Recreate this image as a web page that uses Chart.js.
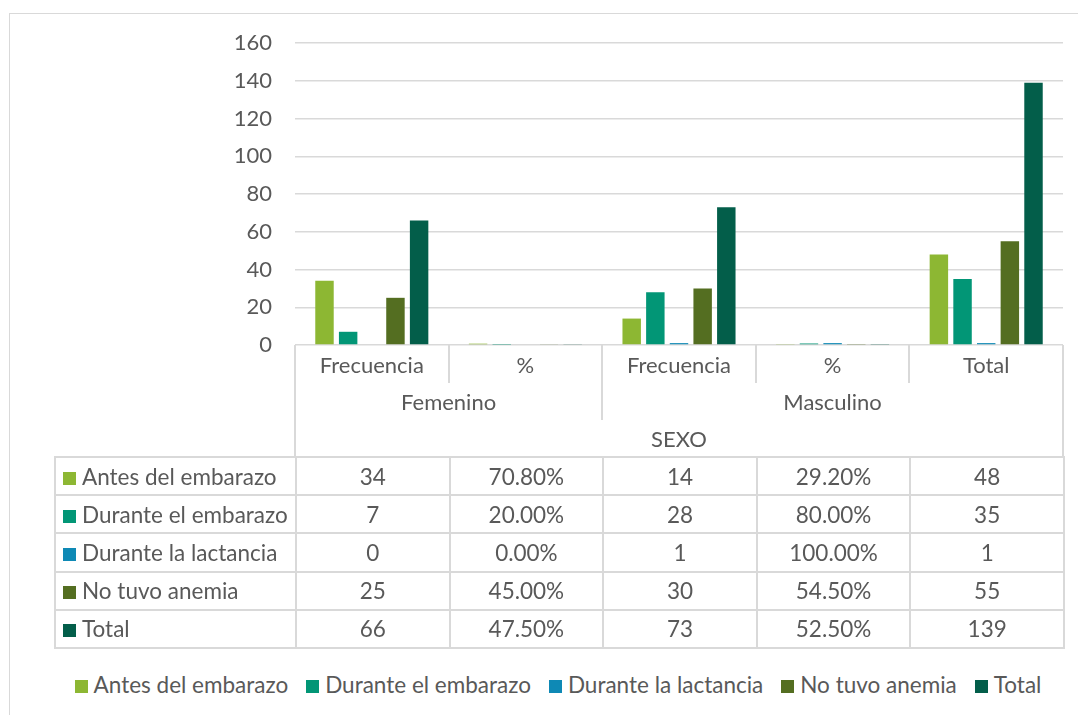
<!DOCTYPE html>
<html>
<head>
<meta charset="utf-8">
<script src="https://cdn.jsdelivr.net/npm/chart.js@4.4.1/dist/chart.umd.min.js"></script>
<style>
  html, body { margin: 0; padding: 0; background: #fff; }
  body { width: 1078px; height: 715px; position: relative; overflow: hidden;
         font-family: Lato, "Open Sans", sans-serif; color: #595959; }
  #frame { position: absolute; left: 9px; top: 13px; width: 1100px; height: 720px;
           border: 1.5px solid #d9d9d9; box-sizing: border-box; }
  #chart { position: absolute; left: 0; top: 0; }
  .cell { position: absolute; box-sizing: border-box; display: flex; align-items: center;
          justify-content: center; font-size: 22px; white-space: nowrap; }
  table.data { position: absolute; left: 54px; top: 456px; border-collapse: collapse;
               table-layout: fixed; font-size: 22.5px; }
  table.data tr { height: 38.2px; }
  table.data td { border: 2px solid #d9d9d9; padding: 0; text-align: center;
                  white-space: nowrap; }
  table.data td.key { text-align: left; padding-left: 7px; }
  .sw { display: inline-block; width: 13px; height: 13px; margin-right: 6px; vertical-align: 0px; }
  #legend { position: absolute; left: 40px; top: 671px; width: 1036px; display: flex;
            justify-content: center; font-size: 22.5px; }
  #legend span.item { margin: 0 9px; white-space: nowrap; }
</style>
</head>
<body>
<div id="frame"></div>
<canvas id="chart" width="1078" height="385"></canvas>
<div id="table"></div>
<div id="legend"></div>
<script>
// Categories of the x axis (lowest level), their groups and the axis title
var categories = ["Frecuencia", "%", "Frecuencia", "%", "Total"];
var groupLabels = ["Femenino", "Masculino"];
var groupSpans = [2, 3];
var axisTitle = "SEXO";

// Series (the % columns are fractions, as in the source sheet)
var seriesNames = ["Antes del embarazo", "Durante el embarazo", "Durante la lactancia", "No tuvo anemia", "Total"];
var antes = [34, 0.708, 14, 0.292, 48];
var durante = [7, 0.2, 28, 0.8, 35];
var lactancia = [0, 0, 1, 1, 1];
var noAnemia = [25, 0.45, 30, 0.545, 55];
var total = [66, 0.475, 73, 0.525, 139];

var yMin = 0, yMax = 160, yStep = 20;

var seriesValues = [antes, durante, lactancia, noAnemia, total];
var colors = ["#8db733", "#029676", "#0e89b5", "#546e21", "#035e4a"];

(function () {
  "use strict";

  var GRID = "#d9d9d9";
  var TEXT = "#595959";
  var plotLeft = 295, plotRight = 1063, plotBottom = 345;
  var canvasH = 385;
  var colW = (plotRight - plotLeft) / categories.length;

  // The canvas runs a little under the label rows: the y axis asks for room
  // below its "0" label, so the extra height keeps the plot bottom at 345.
  new Chart(document.getElementById("chart"), {
    type: "bar",
    data: {
      labels: categories,
      datasets: seriesNames.map(function (name, i) {
        return {
          label: name,
          data: seriesValues[i],
          backgroundColor: colors[i],
          categoryPercentage: 0.77,
          barPercentage: 0.78,
        };
      }),
    },
    options: {
      responsive: false,
      animation: false,
      devicePixelRatio: 1,
      layout: { padding: { left: 0, right: 1078 - plotRight, top: 43, bottom: canvasH - plotBottom } },
      plugins: { legend: { display: false }, tooltip: { enabled: false } },
      scales: {
        x: { display: false },
        y: {
          min: yMin,
          max: yMax,
          afterFit: function (s) { s.width = plotLeft; },
          border: { display: false },
          grid: { color: GRID, lineWidth: 1.5, drawTicks: false },
          ticks: { stepSize: yStep, padding: 23, color: TEXT, font: { family: "Lato", size: 22 } },
        },
      },
    },
  });

  // Multi-level category labels under the plot
  var host = document.getElementById("table");
  function cell(text, left, top, w, h, borders) {
    var d = document.createElement("div");
    d.className = "cell";
    d.textContent = text;
    d.style.left = left + "px";
    d.style.top = top + "px";
    d.style.width = w + "px";
    d.style.height = h + "px";
    borders.forEach(function (b) { d.style["border" + b] = "2px solid " + GRID; });
    host.appendChild(d);
  }
  categories.forEach(function (c, i) {
    var b = ["Left"];
    if (i === categories.length - 1) b.push("Right");
    cell(c, plotLeft + i * colW - 1, plotBottom, colW + (b.length > 1 ? 2 : 0), 38, b);
  });
  var start = 0;
  groupLabels.forEach(function (g, i) {
    var b = ["Left"];
    if (i === groupLabels.length - 1) b.push("Right");
    cell(g, plotLeft + start * colW - 1, 383, groupSpans[i] * colW + (b.length > 1 ? 2 : 0), 37, b);
    start += groupSpans[i];
  });
  cell(axisTitle, plotLeft - 1, 420, plotRight - plotLeft + 2, 37, ["Left", "Right"]);

  // Data table rows
  var table = document.createElement("table");
  table.className = "data";
  var cg = document.createElement("colgroup");
  [plotLeft - 54].concat(categories.map(function () { return colW; })).forEach(function (w) {
    var col = document.createElement("col");
    col.style.width = w + "px";
    cg.appendChild(col);
  });
  table.appendChild(cg);
  seriesNames.forEach(function (name, r) {
    var tr = document.createElement("tr");
    var k = document.createElement("td");
    k.className = "key";
    k.innerHTML = '<span class="sw" style="background:' + colors[r] + '"></span>';
    k.appendChild(document.createTextNode(name));
    tr.appendChild(k);
    seriesValues[r].forEach(function (v, c) {
      var td = document.createElement("td");
      td.textContent = categories[c] === "%" ? (v * 100).toFixed(2) + "%" : String(v);
      tr.appendChild(td);
    });
    table.appendChild(tr);
  });
  host.appendChild(table);

  // Bottom legend
  var legend = document.getElementById("legend");
  seriesNames.forEach(function (name, i) {
    var s = document.createElement("span");
    s.className = "item";
    s.innerHTML = '<span class="sw" style="background:' + colors[i] + '"></span>';
    s.appendChild(document.createTextNode(name));
    legend.appendChild(s);
  });
})();
</script>
</body>
</html>
